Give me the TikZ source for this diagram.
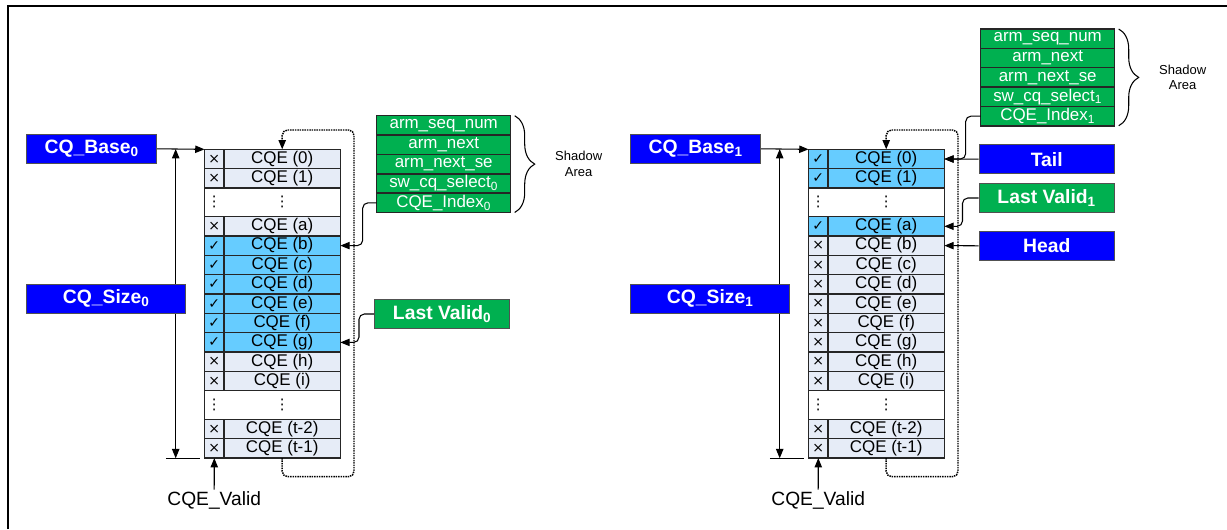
\documentclass[tikz,border=0pt]{standalone}
\usepackage{fontspec}
\setmainfont{Liberation Sans}
\newfontfamily\symfont{DejaVu Sans}
\usepackage{xcolor}
\definecolor{cEdge}{HTML}{262626}
\definecolor{cLight}{HTML}{E6ECF7}
\definecolor{cValid}{HTML}{66CCFF}
\definecolor{cBlue}{HTML}{0000FF}
\definecolor{cGreen}{HTML}{00B050}
\usepackage{tikz}
\usetikzlibrary{positioning,arrows.meta,decorations.pathreplacing}
\newcommand\symok{{\symfont ✓}}
\newcommand\symno{{\symfont ×}}
\tikzset{
  cell/.style={draw=cEdge,line width=1.1pt,inner sep=0pt,outer sep=0pt,
    minimum height=14.5pt},
  cqe-no/.style={cell,fill=cLight,minimum width=87.2pt,
    font=\fontsize{12.7}{14}\selectfont},
  cqe-ok/.style={cqe-no,fill=cValid},
  chk-no/.style={cell,fill=cLight,minimum width=14.6pt,
    font=\fontsize{10.5}{11}\selectfont},
  chk-ok/.style={chk-no,fill=cValid},
  dots-row/.style={cell,fill=white,minimum width=101.8pt,minimum height=21.45pt},
  dots/.style={inner sep=0pt,font=\symfont\fontsize{11}{12}\selectfont},
  shadow-cell/.style={cell,fill=cGreen,text=white,minimum width=100.5pt,
    font=\fontsize{12.7}{14}\selectfont},
  label-box/.style={draw=cEdge!80,line width=0.8pt,text=white,inner sep=0pt,
    minimum width=101.5pt,minimum height=22pt,
    font=\bfseries\fontsize{14.5}{16}\selectfont},
  label-blue/.style={label-box,fill=cBlue},
  label-green/.style={label-box,fill=cGreen},
  line-thin/.style={line width=0.8pt,draw=black},
  arrow-loop/.style={->,line width=1.1pt,dash pattern=on 1.1pt off 0.7pt,
    rounded corners=4pt},
  brace-line/.style={decorate,decoration={brace,amplitude=15pt},line width=0.8pt},
  note/.style={align=center,font=\fontsize{9.75}{11.8}\selectfont},
  valid-text/.style={inner sep=1pt,font=\fontsize{14.4}{16}\selectfont},
}

\begin{document}
\begin{tikzpicture}[x=0.75pt,y=-0.75pt,>={Triangle[length=7pt,width=5.5pt]}]
  \useasboundingbox (0,0) rectangle (1227,529);
  \draw[line width=1.5pt] (8.3,529) -- (8.3,5.7) -- (1227,5.7);

  \foreach \sd/\dx/\idx/\dy in {L/0/0/0, R/604/1/-86.7} {
    \begin{scope}[shift={(\dx,0)}]
      % queue entries
      \foreach \id/\y/\lab/\lv/\rv in {0/159/0/no/ok, 1/178.3/1/no/ok,
          a/226.3/a/no/ok, b/245.6/b/ok/no, c/265/c/ok/no, d/284.3/d/ok/no,
          e/303.7/e/ok/no, f/323/f/ok/no, g/342.4/g/ok/no, h/361.7/h/no/no,
          i/381.1/i/no/no, t2/429/t-2/no/no, t1/448.4/t-1/no/no} {
        \ifnum\idx=0 \edef\cstate{\lv}\else\edef\cstate{\rv}\fi
        \node[cqe-\cstate] (\sd\id) at (282.2,\y) {CQE (\lab)};
        \node[chk-\cstate] (\sd c\id) at (214.3,\y) {\csname sym\cstate\endcsname};
      }
      \foreach \id/\y in {d1/202.3, d2/405.05} {
        \node[dots-row] (\sd\id) at (272.4,\y) {};
        \node[dots] (\sd\id-a) at (214.3,\y) {⋮};
        \node[dots] (\sd\id-b) at (282.2,\y) {⋮};
      }
      \draw[line width=1.1pt,draw=cEdge] (\sd c0.north west) rectangle (\sd t1.south east);

      % shadow area
      \foreach \id/\y/\lab in {1/125.4/arm\_seq\_num, 2/144.8/arm\_next,
          3/164.1/arm\_next\_se, 4/183.5/sw\_cq\_select\textsubscript{\idx},
          5/202.8/CQE\_Index\textsubscript{\idx}} {
        \node[shadow-cell] (\sd s\id) at (443.7,\y+\dy) {\lab};
      }
      \draw[brace-line] ([xshift=3pt]\sd s1.north east) -- ([xshift=3pt]\sd s5.south east);
      \node[note] (\sd note) at ([xshift=51pt]\sd s3.east) {Shadow\\Area};

      % base and size
      \coordinate (\sd dimtop) at (175.7,149);
      \coordinate (\sd dimbot) at (175.7,458.3);
      \draw[<->,line-thin] (\sd dimtop) -- (\sd dimbot);
      \draw[line-thin] ([xshift=-7.3pt]\sd dimbot) -- ([xshift=18.2pt]\sd dimbot);
      \node[label-blue,minimum width=97.5pt] (\sd base) at (91.7,148.8) {CQ\_Base\textsubscript{\idx}};
      \node[label-blue,minimum width=119.3pt] (\sd size) at (106.2,298.8) {CQ\_Size\textsubscript{\idx}};
      \draw[->,line-thin] (\sd base.east) -- (\sd c0.north west);

      \node[valid-text] (\sd valid) at (214.2,500) {CQE\_Valid};
      \draw[->,line-thin] (\sd valid.north) -- (\sd ct1.south);

      % wrap around
      \coordinate (\sd turn) at (354,130);
      \draw[arrow-loop] (\sd t1.south) -- ++(0,18.6) -| (\sd turn) -| (\sd 0.north);
    \end{scope}
  }

  % left queue pointers
  \node[label-green] (Llast) at (442.2,314) {Last Valid\textsubscript{0}};
  \draw[->,line-thin,rounded corners=4pt] (Ls5.west) -- ++(-14,0) |- (Lb.east);
  \draw[->,line-thin,rounded corners=4pt] (Llast.west) -- ++(-15,0) |- (Lg.east);

  % right queue pointers
  \node[label-blue] (Rtail) at (1046.7,159.2) {Tail};
  \node[label-green] (Rlast) at (1046.7,198) {Last Valid\textsubscript{1}};
  \node[label-blue] (Rhead) at (1046.7,245.8) {Head};
  \draw[->,line-thin,rounded corners=4pt] (Rs5.west) -- ++(-15,0) |- (R0.east);
  \draw[->,line-thin] (Rtail.west) -- (R0.east);
  \draw[->,line-thin,rounded corners=4pt] (Rlast.west) -- ++(-16,0) |- (Ra.east);
  \draw[->,line-thin] (Rhead.west) -- (Rb.east);
\end{tikzpicture}
\end{document}
